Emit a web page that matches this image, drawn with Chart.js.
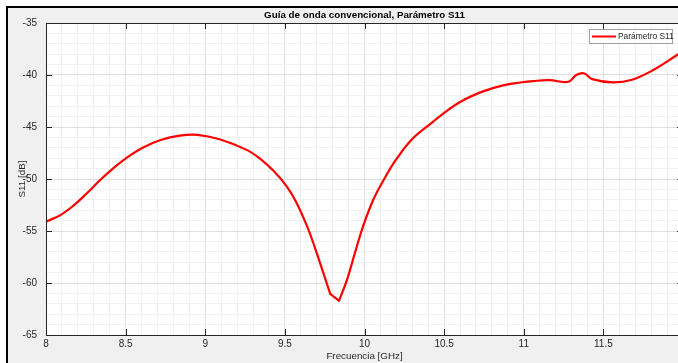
<!DOCTYPE html>
<html>
<head>
<meta charset="utf-8">
<script src="https://cdn.jsdelivr.net/npm/chart.js@4.4.0/dist/chart.umd.min.js"></script>
<style>
    html, body { margin: 0; padding: 0; background: #fff; overflow: hidden; }
    #frame {
        position: absolute; left: 6px; top: 6px; width: 720px; height: 400px;
        border-left: 2px solid #000; border-top: 2px solid #000;
        background: #f0f0f0;
    }
    #wrap { position: absolute; left: 0; top: 0; width: 700px; height: 363px; }
</style>
</head>
<body>
<div id="frame"></div>
<div id="wrap"><canvas id="s11Chart" width="700" height="363"></canvas></div>
<script>
// =========================================================
// Datos
// =========================================================

const TITLE = 'Guía de onda convencional, Parámetro S11';
const X_TITLE = 'Frecuencia [GHz]';
const Y_TITLE = 'S11 [dB]';
const SERIES_LABEL = 'Parámetro S11';

const freqGHz = [
    8.0, 8.09, 8.17, 8.255, 8.34, 8.42, 8.51, 8.61, 8.72, 8.84,
    8.95, 9.09, 9.26, 9.34, 9.43, 9.51, 9.57, 9.64, 9.69, 9.74,
    9.785, 9.84, 9.89, 9.94, 9.99, 10.055, 10.12, 10.20, 10.30, 10.43,
    10.47, 10.60, 10.74, 10.87, 10.98, 11.06, 11.16, 11.28, 11.33, 11.38,
    11.43, 11.56, 11.68, 11.81, 11.97, 12.0
];
const s11dB = [
    -54.1, -53.47, -52.59, -51.4, -50.1, -49.0, -47.92, -46.97, -46.25, -45.83,
    -45.75, -46.18, -47.2, -48.0, -49.24, -50.68, -52.18, -54.56, -56.66, -58.96,
    -61.05, -61.7, -59.7, -57.1, -54.6, -52.0, -50.1, -48.1, -46.15, -44.5,
    -44.0, -42.6, -41.6, -41.0, -40.72, -40.58, -40.5, -40.65, -40.0, -39.85,
    -40.4, -40.7, -40.45, -39.55, -38.0, -37.7
];
// la bajada y la subida se unen en un tramo recto (vértice del mínimo)
const dipStart = 9.785;
const dipEnd = 9.84;

const xMajorTicks = [8, 8.5, 9, 9.5, 10, 10.5, 11, 11.5, 12];
const yMajorTicks = [-65, -60, -55, -50, -45, -40, -35];

const FONT = '"Liberation Sans", Arial, sans-serif';
const AXIS_COLOR = '#262626';

function isMajor(v, list) {
    return list.some(t => Math.abs(t - v) < 1e-6);
}

function pointsBetween(from, to) {
    return freqGHz
        .map((f, i) => ({ x: f, y: s11dB[i] }))
        .filter(p => p.x >= from - 1e-9 && p.x <= to + 1e-9);
}

// =========================================================
// Plugin: fondo, marco, marcas, títulos y leyenda estilo MATLAB
// =========================================================

const matlabLook = {
    id: 'matlabLook',
    beforeDraw(chart) {
        const { ctx, chartArea: a } = chart;
        ctx.save();
        ctx.fillStyle = '#fff';
        ctx.fillRect(a.left, a.top, a.right - a.left, a.bottom - a.top);
        ctx.restore();
    },
    afterDraw(chart) {
        const { ctx, chartArea: a, scales } = chart;
        ctx.save();

        // caja de ejes
        ctx.strokeStyle = AXIS_COLOR;
        ctx.lineWidth = 1;
        ctx.strokeRect(a.left + 0.5, a.top + 0.5, a.right - a.left, a.bottom - a.top);

        // marcas hacia dentro
        ctx.beginPath();
        xMajorTicks.forEach(v => {
            const x = Math.round(scales.x.getPixelForValue(v)) + 0.5;
            ctx.moveTo(x, a.bottom); ctx.lineTo(x, a.bottom - 6);
            ctx.moveTo(x, a.top); ctx.lineTo(x, a.top + 6);
        });
        yMajorTicks.forEach(v => {
            const y = Math.round(scales.y.getPixelForValue(v)) + 0.5;
            ctx.moveTo(a.left, y); ctx.lineTo(a.left + 6, y);
            ctx.moveTo(a.right, y); ctx.lineTo(a.right - 6, y);
        });
        ctx.stroke();

        // títulos
        const cx = (a.left + a.right) / 2;
        ctx.fillStyle = '#000';
        ctx.textAlign = 'center';
        ctx.textBaseline = 'middle';
        ctx.font = 'bold 9.8px ' + FONT;
        ctx.fillText(TITLE, cx, 15);

        ctx.fillStyle = AXIS_COLOR;
        ctx.font = '9.8px ' + FONT;
        ctx.fillText(X_TITLE, cx, 356);

        ctx.save();
        ctx.translate(22, (a.top + a.bottom) / 2);
        ctx.rotate(-Math.PI / 2);
        ctx.fillText(Y_TITLE, 0, 0);
        ctx.restore();

        // leyenda
        const lx = 589, ly = 29, lw = 83, lh = 14;
        ctx.fillStyle = '#fff';
        ctx.fillRect(lx, ly, lw, lh);
        ctx.strokeStyle = '#a0a0a0';
        ctx.lineWidth = 1;
        ctx.strokeRect(lx + 0.5, ly + 0.5, lw, lh);
        ctx.strokeStyle = '#ff0000';
        ctx.lineWidth = 2;
        ctx.beginPath();
        ctx.moveTo(lx + 3, ly + 7.5);
        ctx.lineTo(lx + 27, ly + 7.5);
        ctx.stroke();
        ctx.fillStyle = AXIS_COLOR;
        ctx.textAlign = 'left';
        ctx.font = '8.4px ' + FONT;
        ctx.fillText(SERIES_LABEL, lx + 29, ly + 8);

        ctx.restore();
    }
};

// =========================================================
// Gráfico
// =========================================================

function curveDataset(data) {
    return {
        label: SERIES_LABEL,
        data: data,
        borderColor: '#ff0000',
        borderWidth: 2.2,
        pointRadius: 0,
        fill: false,
        tension: 0.4,
        borderCapStyle: 'round',
        borderJoinStyle: 'round',
        clip: 0
    };
}

function createS11Chart() {
    const ctx = document.getElementById('s11Chart').getContext('2d');

    new Chart(ctx, {
        type: 'line',
        data: {
            datasets: [
                curveDataset(pointsBetween(8, dipStart)),
                curveDataset(pointsBetween(dipStart, dipEnd)),
                curveDataset(pointsBetween(dipEnd, 12))
            ]
        },
        options: {
            responsive: false,
            animation: false,
            layout: { padding: { left: 0, top: 23, right: 17, bottom: 0 } },
            plugins: {
                legend: { display: false },
                title: { display: false },
                tooltip: { enabled: false }
            },
            scales: {
                x: {
                    type: 'linear',
                    min: 8, max: 12,
                    afterFit: s => { s.height = 28; },
                    ticks: {
                        stepSize: 0.1,
                        autoSkip: false,
                        maxRotation: 0,
                        padding: 3,
                        color: AXIS_COLOR,
                        font: { family: FONT, size: 10 },
                        callback: v => isMajor(v, xMajorTicks) ? String(Math.round(v * 10) / 10) : ''
                    },
                    grid: {
                        drawTicks: false,
                        color: c => isMajor(c.tick.value, xMajorTicks) ? '#dfdfdf' : '#f1f1f1'
                    },
                    border: { display: false }
                },
                y: {
                    min: -65, max: -35,
                    afterFit: s => { s.width = 46; },
                    ticks: {
                        stepSize: 1,
                        autoSkip: false,
                        padding: 9,
                        color: AXIS_COLOR,
                        font: { family: FONT, size: 10 },
                        callback: v => isMajor(v, yMajorTicks) ? String(Math.round(v)) : ''
                    },
                    grid: {
                        drawTicks: false,
                        color: c => isMajor(c.tick.value, yMajorTicks) ? '#dfdfdf' : '#f1f1f1'
                    },
                    border: { display: false }
                }
            }
        },
        plugins: [matlabLook]
    });
}

document.addEventListener('DOMContentLoaded', createS11Chart);
</script>
</body>
</html>
